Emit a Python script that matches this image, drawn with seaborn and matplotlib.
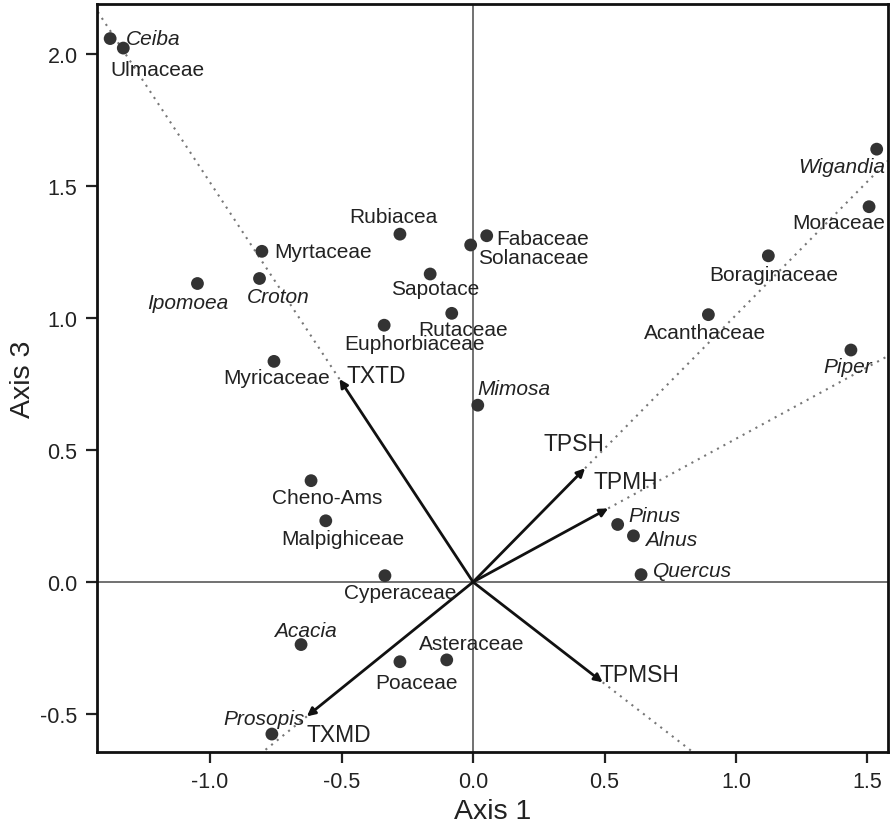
import numpy as np
import pandas as pd
import matplotlib
matplotlib.use("Agg")
import matplotlib.pyplot as plt
import seaborn as sns

# ---- data ----
taxa = ["Ceiba", "Ulmaceae", "Wigandia", "Moraceae", "Boraginaceae", "Acanthaceae",
        "Piper", "Rubiacea", "Myrtaceae", "Croton", "Ipomoea", "Sapotace", "Rutaceae",
        "Euphorbiaceae", "Fabaceae", "Solanaceae", "Myricaceae", "Mimosa", "Cheno-Ams",
        "Malpighiceae", "Cyperaceae", "Acacia", "Asteraceae", "Poaceae", "Prosopis",
        "Pinus", "Alnus", "Quercus"]
axis1 = [-1.380, -1.330, 1.535, 1.506, 1.123, 0.895,
         1.437, -0.278, -0.803, -0.812, -1.048, -0.163, -0.081,
         -0.338, 0.052, -0.009, -0.757, 0.018, -0.616,
         -0.560, -0.335, -0.654, -0.100, -0.278, -0.765,
         0.550, 0.610, 0.639]
axis3 = [2.059, 2.023, 1.640, 1.422, 1.236, 1.013,
         0.879, 1.318, 1.253, 1.150, 1.131, 1.167, 1.018,
         0.973, 1.312, 1.277, 0.836, 0.670, 0.384,
         0.232, 0.024, -0.237, -0.295, -0.302, -0.576,
         0.218, 0.175, 0.028]
italic_taxa = ["Ceiba", "Wigandia", "Piper", "Croton", "Ipomoea", "Mimosa",
               "Acacia", "Prosopis", "Pinus", "Alnus", "Quercus"]

vectors = ["TXTD", "TPSH", "TPMH", "TPMSH", "TXMD"]
vec_x = [-0.508, 0.426, 0.514, 0.493, -0.632]
vec_y = [0.769, 0.431, 0.279, -0.380, -0.509]

xticks = [-1.0, -0.5, 0.0, 0.5, 1.0, 1.5]
yticks = [-0.5, 0.0, 0.5, 1.0, 1.5, 2.0]

# ---- label layout (pixel offsets: dx right, dy down; alignment) ----
label_layout = {
    "Ceiba": (16, 0, "left"), "Ulmaceae": (-13, 21, "left"),
    "Wigandia": (8, 17, "right"), "Moraceae": (16, 16, "right"),
    "Boraginaceae": (5, 18.5, "center"), "Acanthaceae": (-3, 17.5, "center"),
    "Piper": (21, 16, "right"), "Rubiacea": (-7, -18, "center"),
    "Myrtaceae": (12, 0, "left"), "Croton": (-12.6, 18, "left"),
    "Ipomoea": (31, 19, "right"), "Sapotace": (4.7, 14, "center"),
    "Rutaceae": (11.6, 15.7, "center"), "Euphorbiaceae": (30.7, 18, "center"),
    "Fabaceae": (10, 3, "left"), "Solanaceae": (7.6, 12.3, "left"),
    "Myricaceae": (56, 16, "right"), "Mimosa": (0, -16.7, "left"),
    "Cheno-Ams": (16, 16.6, "center"), "Malpighiceae": (16.8, 17.6, "center"),
    "Cyperaceae": (15.5, 16.6, "center"), "Acacia": (4, -14, "center"),
    "Asteraceae": (25, -16.7, "center"), "Poaceae": (17, 20.6, "center"),
    "Prosopis": (33, -15.7, "right"), "Pinus": (10.7, -8.7, "left"),
    "Alnus": (11.7, 3.3, "left"), "Quercus": (12.3, -4, "left"),
}
vec_layout = {
    "TXTD": (7, -4, "left"), "TPSH": (-41.7, -25, "left"),
    "TPMH": (-15, -27, "left"), "TPMSH": (-2.7, -7.6, "left"),
    "TXMD": (-0.7, 17.7, "left"),
}

sns.set_style("ticks")
plt.rcParams["font.family"] = ["Liberation Sans", "DejaVu Sans"]

fig = plt.figure(figsize=(8.91, 8.29), dpi=100)
ax = fig.add_axes([97 / 891, 1 - 753 / 829, (888 - 97) / 891, (753 - 5) / 829])

xlim = (-1.43, 1.578)
ylim = (-0.644, 2.19)
ax.set_xlim(*xlim)
ax.set_ylim(*ylim)

# zero lines
ax.axhline(0, color="#666666", lw=1.3, zorder=1)
ax.axvline(0, color="#666666", lw=1.3, zorder=1)

df = pd.DataFrame({"taxon": taxa, "Axis 1": axis1, "Axis 3": axis3})
sns.scatterplot(data=df, x="Axis 1", y="Axis 3", ax=ax, s=85, color="#333333",
                edgecolor="none", zorder=4, legend=False)

px2pt = 0.72
for name, xv, yv in zip(taxa, axis1, axis3):
    dx, dy, ha = label_layout[name]
    ax.annotate(name, (xv, yv), xytext=(dx * px2pt, -dy * px2pt),
                textcoords="offset points", ha=ha, va="center",
                fontsize=15, color="#222222",
                fontstyle="italic" if name in italic_taxa else "normal", zorder=5)

# vectors with dotted extension to frame
for name, vx, vy in zip(vectors, vec_x, vec_y):
    ts = []
    if vx > 0:
        ts.append(xlim[1] / vx)
    elif vx < 0:
        ts.append(xlim[0] / vx)
    if vy > 0:
        ts.append(ylim[1] / vy)
    elif vy < 0:
        ts.append(ylim[0] / vy)
    t = min(ts)
    ax.plot([vx, vx * t], [vy, vy * t], linestyle=(0, (1, 2.5)), color="#777777",
            lw=1.5, zorder=2)
    ax.annotate("", xy=(vx, vy), xytext=(0, 0),
                arrowprops=dict(arrowstyle="-|>", color="#111111", lw=2.0,
                                mutation_scale=12, shrinkA=0, shrinkB=0),
                zorder=3)
    dx, dy, ha = vec_layout[name]
    ax.annotate(name, (vx, vy), xytext=(dx * px2pt, -dy * px2pt),
                textcoords="offset points", ha=ha, va="center",
                fontsize=16.5, color="#222222", zorder=5)

ax.set_xticks(xticks)
ax.set_yticks(yticks)
ax.set_xticklabels([f"{v:.1f}" for v in xticks])
ax.set_yticklabels([f"{v:.1f}" for v in yticks])
ax.tick_params(axis="both", direction="out", length=8, width=1.6,
               labelsize=15.5, colors="#222222", pad=6)
for sp in ax.spines.values():
    sp.set_linewidth(2.0)
    sp.set_color("#111111")

ax.set_xlabel("Axis 1", fontsize=20.5, color="#222222", labelpad=4)
ax.set_ylabel("Axis 3", fontsize=20.5, color="#222222", labelpad=3)

fig.savefig("out.png", dpi=100)
